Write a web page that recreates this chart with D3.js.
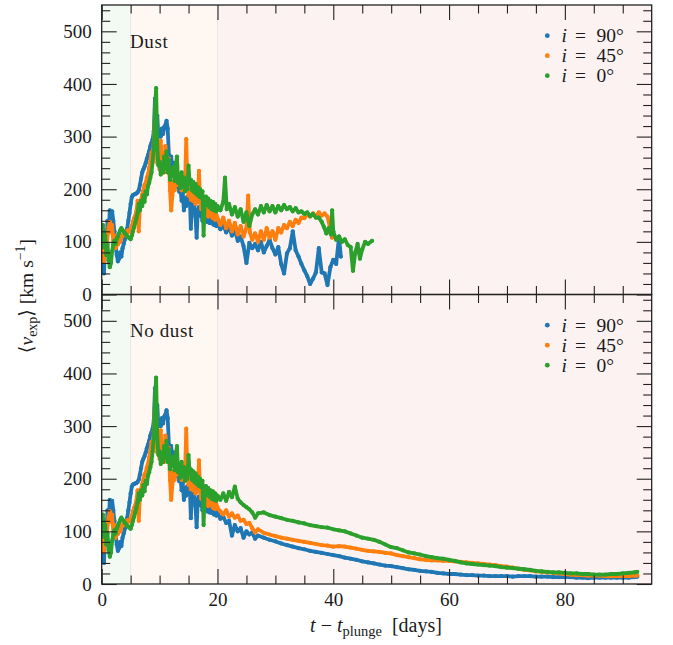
<!DOCTYPE html>
<html>
<head>
<meta charset="utf-8">
<script src="https://cdn.jsdelivr.net/npm/d3@7"></script>
<style>
  body { margin: 0; background: #fff; }
  svg { display: block; }
  text { font-family: "Liberation Serif", "DejaVu Serif", serif; fill: #1a1a1a; }
</style>
</head>
<body>
<svg id="chart" width="673" height="645"></svg>
<script>
// ---- data: mean expansion velocity <v_exp> [km/s] vs. time since plunge [days] ----

// Phases shaded behind both panels (days)
const phaseEdges = [0, 5, 20, 95];

// Output times of the common early evolution (every 0.2 d from 0 to 20 d)
const tEarly = d3.range(101).map(i => +(i * 0.2).toFixed(1));

// Early evolution (0-20 d) is the same with and without dust
const blueEarly = [
  50, 95, 40, 110, 95,   140, 120, 160, 145, 158,   140, 120, 95, 75, 63,   68, 80, 72, 88, 96,
  105, 115, 125, 140, 155,   172, 185, 189, 190, 191,   192, 194, 198, 208, 220,   232, 238, 243, 250, 258,
  265, 272, 282, 288, 295,   310, 372, 305, 340, 300,   308, 300, 315, 305, 318,   322, 330, 315, 265, 255,
  262, 238, 250, 222, 232,   205, 215, 195, 202, 178,   192, 160, 182, 168, 186,   172, 188, 125, 176, 160,
  170, 148, 108, 158, 166,   150, 155, 140, 152, 145,   150, 138, 148, 136, 145,   135, 142, 132, 140, 130,
  136];
const orangeEarly = [
  75, 90, 62, 95, 78,   112, 128, 138, 118, 132,   98, 112, 88, 102, 95,   104, 100, 108, 112, 116,
  113, 120, 116, 122, 119,   124, 130, 138, 145, 150,   158, 178, 120, 168, 180,   190, 198, 208, 212, 222,
  228, 240, 252, 270, 258,   290, 340, 275, 250, 272,   238, 292, 248, 262, 232,   282, 262, 240, 258, 198,
  160, 188, 215, 198, 232,   208, 225, 212, 220, 198,   218, 200, 212, 295, 208,   188, 200, 180, 196, 178,
  194, 172, 188, 176, 235,   178, 162, 174, 158, 170,   152, 168, 148, 164, 150,   160, 145, 158, 142, 152,
  145];
const greenEarly = [
  122, 132, 90, 112, 75,   96, 65, 52, 60, 82,   95, 102, 96, 106, 110,   116, 122, 126, 122, 120,
  116, 114, 110, 109, 107,   105, 112, 120, 128, 136,   145, 155, 172, 160, 178,   168, 188, 176, 196, 190,
  206, 212, 222, 232, 252,   280, 352, 392, 280, 245,   252, 228, 246, 232, 262,   240, 272, 232, 256, 218,
  236, 226, 242, 216, 246,   262, 212, 228, 202, 232,   206, 222, 196, 216, 200,   245, 210, 218, 198, 214,
  194, 210, 190, 204, 186,   200, 184, 196, 112, 178,   186, 170, 182, 166, 178,   162, 176, 160, 172, 158,
  168];

// Later evolution with dust: [t, v]
const blueDustLate = [[20.5,124],[21,132],[21.5,118],[22,128],[22.5,112],[23,122],[23.5,102],[24,110],[24.5,92],[25,60],[25.5,98],[26,88],[26.5,96],[27,84],[27.5,100],[28,80],[28.5,92],[29,104],[29.5,88],[30,76],[30.5,90],[31,58],[31.5,40],[32,78],[32.5,88],[33,120],[33.5,84],[34,72],[34.5,58],[35,46],[35.5,35],[36,20],[36.5,30],[37,42],[37.5,88],[38,42],[38.5,40],[39,18],[39.5,52],[40,66],[40.5,58],[41,110],[41.3,72]];
const orangeDustLate = [[20.5,132],[21,146],[21.5,126],[22,140],[22.5,120],[23,136],[23.5,114],[24,130],[24.5,110],[25,126],[25.3,188],[25.6,118],[26,104],[26.5,116],[27,100],[27.5,120],[28,104],[28.5,126],[29,108],[29.5,120],[30,104],[30.5,126],[31,118],[31.5,132],[32,126],[32.5,138],[33,130],[33.5,142],[34,136],[34.5,146],[35,145],[35.5,152],[36,148],[36.5,154],[37,148],[37.5,156],[38,150],[38.5,154],[39,148],[39.8,108]];
const greenDustLate = [[20.5,160],[21,176],[21.3,222],[21.6,162],[22,172],[22.5,152],[23,166],[23.5,148],[24,162],[24.5,138],[25,156],[25.5,130],[26,152],[26.5,162],[27,152],[27.5,168],[28,156],[28.5,170],[29,158],[29.5,168],[30,156],[30.5,168],[31,160],[31.5,170],[32,162],[32.5,166],[33,158],[33.5,164],[34,156],[34.5,158],[35,153],[35.5,156],[36,149],[36.5,153],[37,146],[37.5,146],[38,138],[38.4,128],[38.8,116],[39.2,126],[39.6,114],[39.8,160],[40.0,120],[40.5,104],[41,110],[41.5,100],[42,105],[42.5,94],[43,90],[43.4,45],[43.8,80],[44.2,96],[44.6,68],[45,86],[45.5,100],[46,96],[46.7,102]];

// Later evolution without dust: [t, v]
const blueNoDustLate = [[20.5,124],[21,128],[21.5,116],[22,120],[22.5,92],[23,112],[23.5,100],[24,106],[24.5,88],[25,100],[25.5,94],[26,98],[26.5,86],[27,92],[28,88],[29,84],[30,81],[31,77],[32,74],[33,71],[34,68],[35,66],[36,63],[37,61],[38,59],[39,57],[40,55],[41,53],[42,50],[43,48],[44,46],[45,43],[46,41],[47,39],[48,37],[49,35],[50,34],[51,32],[52,30],[53,28],[54,27],[55,25],[56,24],[57,23],[58,21],[59,20],[60,19],[61,19],[62,18],[63,17],[64,17],[65,16],[66,16],[67,15],[68,15],[69,15],[70,15],[71,14],[72,15],[73,15],[74,15],[75,14],[76,14],[77,14],[78,13],[79,13],[80,13],[81,13],[82,12],[83,12],[84,11],[85,12],[86,12],[87,12],[88,12],[89,12],[90,12],[91,12],[92,13],[92.5,14]];
const orangeNoDustLate = [[20.5,138],[21,132],[21.5,140],[22,128],[22.5,134],[23,126],[23.5,130],[24,120],[24.5,122],[25,114],[25.5,116],[26,106],[26.5,98],[27,104],[28,97],[29,94],[30,91],[31,88],[32,86],[33,84],[34,82],[35,80],[36,78],[37,76],[38,74],[39,73],[40,71],[41,72],[42,71],[43,69],[44,67],[45,65],[46,63],[47,62],[48,61],[49,59],[50,58],[51,55],[52,53],[53,51],[54,49],[55,47],[56,46],[57,45],[58,45],[59,44],[60,44],[61,43],[62,42],[63,41],[64,40],[65,39],[66,38],[67,37],[68,36],[69,34],[70,33],[71,31],[72,29],[73,27],[74,26],[75,24],[76,23],[77,22],[78,21],[79,20],[80,19],[81,18],[82,17],[83,17],[84,16],[85,16],[86,16],[87,15],[88,15],[89,15],[90,15],[91,15],[92,16],[92.5,16]];
const greenNoDustLate = [[20.5,160],[21,172],[21.5,158],[22,175],[22.5,165],[23,185],[23.5,162],[24,155],[24.5,150],[25,146],[25.5,142],[26,136],[26.5,126],[27,134],[28,136],[29,131],[30,128],[31,125],[32,122],[33,120],[34,117],[35,115],[36,112],[37,110],[38,108],[39,107],[40,104],[41,102],[42,100],[43,96],[44,92],[45,88],[46,86],[47,84],[48,80],[49,75],[50,70],[51,68],[52,64],[53,60],[54,58],[55,56],[56,53],[57,51],[58,49],[59,48],[60,46],[61,44],[62,41],[63,39],[64,38],[65,37],[66,36],[67,35],[68,34],[69,32],[70,31],[71,30],[72,29],[73,28],[74,27],[75,25],[76,24],[77,23],[78,22],[79,22],[80,21],[81,20],[82,20],[83,19],[84,19],[85,18],[86,18],[87,18],[88,19],[89,19],[90,20],[91,21],[92,22],[92.5,23]];

// Legend / panel labels
const inclinations = ["90°", "45°", "0°"];
const panelLabels = ["Dust", "No dust"];

// Tick values
const xMajorTicks = [0, 20, 40, 60, 80];
const xMinorTicks = [5, 10, 15, 25, 30, 35, 45, 50, 55, 65, 70, 75, 85, 90];
const yMajorTicks = [0, 100, 200, 300, 400, 500];
const yMinorTicks = [20, 40, 60, 80, 120, 140, 160, 180, 220, 240, 260, 280, 320, 340, 360, 380, 420, 440, 460, 480, 520, 540];

// ---- styling ----
const seriesColors = ["#1f77b4", "#ff7f0e", "#2ca02c"];
const phaseFills = ["rgba(44,160,44,0.055)", "rgba(255,127,14,0.055)", "rgba(214,39,40,0.06)"];
const frameColor = "#222";

const svg = d3.select("#chart");
const left = 101.7, right = 651.7;
const panelH = 289.5;
const panelTops = [5, 294.5];

const x = d3.scaleLinear().domain([0, 95]).range([left, right]);

const early = (vals) => tEarly.map((t, i) => [t, vals[i]]);
const panels = [
  { label: panelLabels[0], series: [early(blueEarly).concat(blueDustLate), early(orangeEarly).concat(orangeDustLate), early(greenEarly).concat(greenDustLate)] },
  { label: panelLabels[1], series: [early(blueEarly).concat(blueNoDustLate), early(orangeEarly).concat(orangeNoDustLate), early(greenEarly).concat(greenNoDustLate)] }
];

panels.forEach((p, pi) => {
  const top = panelTops[pi];
  const bottom = top + panelH;
  const y = d3.scaleLinear().domain([0, 550]).range([bottom, top]);
  const g = svg.append("g");

  g.append("clipPath").attr("id", "clip" + pi)
    .append("rect").attr("x", left).attr("y", top).attr("width", right - left).attr("height", panelH);

  // phase shading
  const bands = d3.pairs(phaseEdges);
  g.selectAll("rect.phase").data(bands).join("rect")
    .attr("class", "phase")
    .attr("x", d => x(d[0])).attr("width", d => x(d[1]) - x(d[0]))
    .attr("y", top).attr("height", panelH)
    .attr("fill", (d, i) => phaseFills[i]);
  g.selectAll("line.phaseEdge").data(phaseEdges.slice(1, 3)).join("line")
    .attr("class", "phaseEdge")
    .attr("x1", d => x(d)).attr("x2", d => x(d))
    .attr("y1", top).attr("y2", bottom)
    .attr("stroke", "rgba(150,150,150,0.15)").attr("stroke-width", 1);

  // samples: dense points drawn as a joined trail plus dots
  const plot = g.append("g").attr("clip-path", `url(#clip${pi})`);
  const line = d3.line().x(d => x(d[0])).y(d => y(d[1]));
  p.series.forEach((s, si) => {
    plot.append("path").datum(s)
      .attr("d", line)
      .attr("fill", "none")
      .attr("stroke", seriesColors[si])
      .attr("stroke-width", 3.8)
      .attr("stroke-linejoin", "round")
      .attr("stroke-linecap", "round");
    plot.append("g").selectAll("circle").data(s).join("circle")
      .attr("cx", d => x(d[0])).attr("cy", d => y(d[1]))
      .attr("r", 2.1).attr("fill", seriesColors[si]);
  });

  // axes: ticks point inward on all four sides
  const major = 15, minor = 8.5;
  g.append("g").attr("transform", `translate(${left},0)`)
    .call(d3.axisLeft(y).tickValues(yMajorTicks).tickSize(-major).tickSizeOuter(0).tickPadding(10).tickFormat(d3.format("d")));
  g.append("g").attr("transform", `translate(${left},0)`)
    .call(d3.axisLeft(y).tickValues(yMinorTicks).tickSize(-minor).tickSizeOuter(0).tickFormat(""));
  g.append("g").attr("transform", `translate(${right},0)`)
    .call(d3.axisRight(y).tickValues(yMajorTicks).tickSize(-major).tickSizeOuter(0).tickFormat(""));
  g.append("g").attr("transform", `translate(${right},0)`)
    .call(d3.axisRight(y).tickValues(yMinorTicks).tickSize(-minor).tickSizeOuter(0).tickFormat(""));

  g.append("g").attr("transform", `translate(0,${bottom})`)
    .call(d3.axisBottom(x).tickValues(xMajorTicks).tickSize(-major).tickSizeOuter(0).tickPadding(9)
      .tickFormat(pi === 1 ? d3.format("d") : ""));
  g.append("g").attr("transform", `translate(0,${bottom})`)
    .call(d3.axisBottom(x).tickValues(xMinorTicks).tickSize(-minor).tickSizeOuter(0).tickFormat(""));
  g.append("g").attr("transform", `translate(0,${top})`)
    .call(d3.axisTop(x).tickValues(xMajorTicks).tickSize(-major).tickSizeOuter(0).tickFormat(""));
  g.append("g").attr("transform", `translate(0,${top})`)
    .call(d3.axisTop(x).tickValues(xMinorTicks).tickSize(-minor).tickSizeOuter(0).tickFormat(""));

  g.selectAll(".domain").remove();
  g.selectAll(".tick line").attr("stroke", frameColor).attr("stroke-width", 1.1);
  g.selectAll(".tick text").attr("fill", "#1a1a1a").style("font-size", "19px")
    .style("font-family", '"Liberation Serif", serif');

  // frame
  g.append("rect").attr("x", left).attr("y", top).attr("width", right - left).attr("height", panelH)
    .attr("fill", "none").attr("stroke", frameColor).attr("stroke-width", 1.3);

  // panel label
  g.append("text").attr("x", 130).attr("y", top + 42.5)
    .style("font-size", "19px").style("letter-spacing", "0.6px").text(p.label);

  // legend
  inclinations.forEach((inc, i) => {
    const cy = top + 30.7 + i * 20;
    g.append("circle").attr("cx", 547.3).attr("cy", cy).attr("r", 2.4).attr("fill", seriesColors[i]);
    const t = g.append("text").attr("y", cy + 6.3).style("font-size", "19.5px");
    t.append("tspan").attr("x", 561.5).style("font-style", "italic").text("i");
    t.append("tspan").attr("x", 575).text("=");
    t.append("tspan").attr("x", 596.5).text(inc);
  });
});

// axis titles
const xt = svg.append("text").attr("x", 376).attr("y", 632).attr("text-anchor", "middle").style("font-size", "20px");
xt.append("tspan").style("font-style", "italic").text("t");
xt.append("tspan").text(" − ");
xt.append("tspan").style("font-style", "italic").text("t");
xt.append("tspan").attr("dy", 4).style("font-size", "14.5px").text("plunge");
xt.append("tspan").attr("dy", -4).text("\u2002[days]");

const yt = svg.append("text").attr("transform", "translate(33,296) rotate(-90)").attr("text-anchor", "middle").style("font-size", "19.5px");
yt.append("tspan").text("⟨");
yt.append("tspan").style("font-style", "italic").text("v");
yt.append("tspan").attr("dy", 4).style("font-size", "14px").text("exp");
yt.append("tspan").attr("dy", -4).text("⟩ [km s");
yt.append("tspan").attr("dy", -8).style("font-size", "14px").text("−1");
yt.append("tspan").attr("dy", 8).text("]");
</script>
</body>
</html>
